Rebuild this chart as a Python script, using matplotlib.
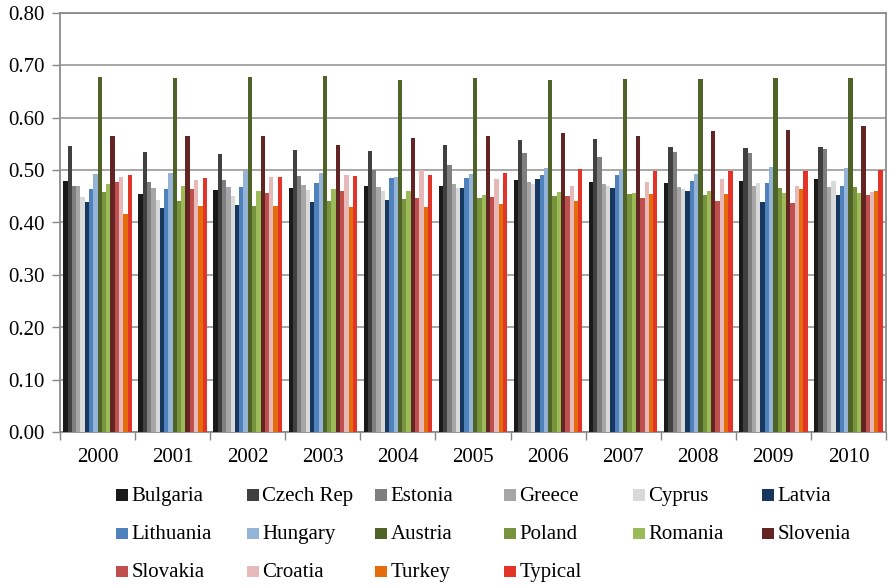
import numpy as np
import matplotlib
matplotlib.use('Agg')
from matplotlib import pyplot as plt
from matplotlib.patches import Rectangle
from matplotlib.ticker import FixedLocator
from matplotlib.transforms import blended_transform_factory, ScaledTranslation

years = ['2000', '2001', '2002', '2003', '2004', '2005', '2006', '2007', '2008', '2009', '2010']

countries = ['Bulgaria', 'Czech Rep', 'Estonia', 'Greece', 'Cyprus', 'Latvia',
             'Lithuania', 'Hungary', 'Austria', 'Poland', 'Romania', 'Slovenia',
             'Slovakia', 'Croatia', 'Turkey', 'Typical']

colors = ['#1a1a1a', '#404040', '#7f7f7f', '#a6a6a6', '#d9d9d9', '#17375e',
          '#4f81bd', '#95b3d7', '#4f6228', '#77933c', '#9bbb59', '#632523',
          '#c0504d', '#e6b9b8', '#e46c0a', '#e3342a']

bulgaria = [0.478, 0.454, 0.462, 0.466, 0.469, 0.469, 0.480, 0.476, 0.475, 0.479, 0.483]
czech = [0.546, 0.535, 0.531, 0.538, 0.536, 0.548, 0.557, 0.559, 0.543, 0.542, 0.544]
estonia = [0.470, 0.476, 0.480, 0.489, 0.499, 0.509, 0.532, 0.525, 0.535, 0.533, 0.540]
greece = [0.469, 0.465, 0.467, 0.471, 0.468, 0.473, 0.476, 0.473, 0.467, 0.470, 0.467]
cyprus = [0.448, 0.443, 0.450, 0.461, 0.460, 0.466, 0.473, 0.470, 0.464, 0.475, 0.478]
latvia = [0.439, 0.427, 0.434, 0.438, 0.443, 0.465, 0.482, 0.465, 0.459, 0.438, 0.452]
lithuania = [0.464, 0.464, 0.468, 0.475, 0.484, 0.485, 0.490, 0.491, 0.478, 0.475, 0.470]
hungary = [0.492, 0.495, 0.497, 0.494, 0.487, 0.493, 0.504, 0.497, 0.493, 0.506, 0.504]
austria = [0.678, 0.675, 0.677, 0.680, 0.672, 0.676, 0.672, 0.673, 0.673, 0.675, 0.676]
poland = [0.458, 0.441, 0.432, 0.441, 0.445, 0.446, 0.451, 0.454, 0.452, 0.466, 0.468]
romania = [0.473, 0.469, 0.460, 0.464, 0.460, 0.452, 0.458, 0.456, 0.459, 0.455, 0.455]
slovenia = [0.564, 0.565, 0.564, 0.548, 0.561, 0.564, 0.571, 0.564, 0.575, 0.577, 0.584]
slovakia = [0.476, 0.464, 0.455, 0.459, 0.446, 0.449, 0.451, 0.446, 0.441, 0.436, 0.452]
croatia = [0.487, 0.480, 0.487, 0.490, 0.500, 0.482, 0.470, 0.477, 0.482, 0.470, 0.457]
turkey = [0.415, 0.431, 0.431, 0.429, 0.429, 0.435, 0.441, 0.454, 0.454, 0.463, 0.459]
typical = [0.490, 0.485, 0.487, 0.489, 0.490, 0.494, 0.501, 0.498, 0.497, 0.497, 0.500]

series = [bulgaria, czech, estonia, greece, cyprus, latvia, lithuania, hungary,
          austria, poland, romania, slovenia, slovakia, croatia, turkey, typical]

# Times-like serif; Tinos first, Liberation Serif as the backup
plt.rcParams['font.family'] = ['Tinos', 'Liberation Serif', 'DejaVu Serif']
font = {'family': ['Tinos', 'Liberation Serif', 'DejaVu Serif'], 'size': 15}
W, H = 889, 587

fig = plt.figure(figsize=(W / 100, H / 100), dpi=100)
ax = fig.add_axes([0.0675, 0.2641, 0.9291, 0.7143])

x = np.arange(len(years))
n = len(series)
w = 0.913 / n
for i, vals in enumerate(series):
    ax.bar(x + (i - (n - 1) / 2) * w, vals, width=w, color=colors[i],
           label=countries[i], linewidth=0, zorder=3)

ax.set_xlim(-0.5, len(years) - 0.5)
ax.set_ylim(0, 0.8)
yt = np.arange(0, 0.81, 0.1)
ax.set_yticks(yt)
ax.grid(axis='y', color='#a0a0a0', linewidth=1.3, zorder=0)
ax.set_axisbelow(True)

ax.set_xticks(x)
ax.xaxis.set_minor_locator(FixedLocator(np.arange(-0.5, len(years), 1.0)))
ax.tick_params(axis='x', which='major', length=0, labelbottom=False)
ax.tick_params(axis='x', which='minor', length=6, width=1, color='#868686')
ax.tick_params(axis='y', length=6, width=1, color='#868686', labelleft=False)

for s in ax.spines.values():
    s.set_color('#8c8c8c')
    s.set_linewidth(1.3)

# tick labels as figure texts in the serif face
xlab_tr = blended_transform_factory(ax.transData, fig.transFigure)
for xi, yr in zip(x, years):
    fig.text(xi, 1 - 462.5 / H, yr, transform=xlab_tr, ha='center', va='baseline', **font)

ylab_tr = blended_transform_factory(fig.transFigure, ax.transData) + \
    ScaledTranslation(0, -7.4 / 100, fig.dpi_scale_trans)
for v in yt:
    fig.text(45 / W, v, '%.2f' % v, transform=ylab_tr, ha='right', va='baseline', **font)

# legend, six columns filled row by row
col_x = [116, 247, 375, 504, 633, 762]
row_base = [500.7, 539.0, 577.0]
for k, name in enumerate(countries):
    cx = col_x[k % 6]
    base = row_base[k // 6]
    fig.add_artist(Rectangle((cx / W, 1 - base / H), 11.5 / W, 11.5 / H,
                             transform=fig.transFigure, facecolor=colors[k],
                             edgecolor='none'))
    fig.text((cx + 15.5) / W, 1 - base / H, name, ha='left', va='baseline', **font)

fig.savefig('out.png', dpi=100)
